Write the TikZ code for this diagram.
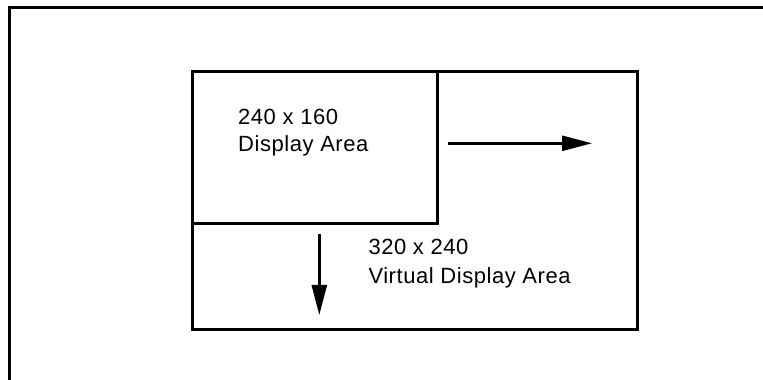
\documentclass[tikz,border=0pt]{standalone}
\usepackage{fontspec}
\setmainfont{Liberation Sans}[LetterSpace=2.5]
\usetikzlibrary{arrows.meta}
\begin{document}
\begin{tikzpicture}[x=1pt,y=1pt,
  frame/.style={line width=3pt},
  area/.style={draw,line width=3pt,inner sep=0pt,outer sep=0pt,anchor=north west},
  lbl/.style={font=\fontsize{22}{27}\selectfont,inner sep=0pt,anchor=base west},
  arr/.style={line width=2.5pt,-{Triangle[length=30pt,width=15pt]}}]
\useasboundingbox (0,0) rectangle (763,380);
\draw[frame] (9.5,0) -- (9.5,372.5) -- (763,372.5);
\node[area,minimum width=445pt,minimum height=258pt] (virt) at (192,308.5) {};
\node[area,minimum width=245.5pt,minimum height=152pt] (disp) at (192,308.5) {};
\node[lbl] (d1) at (238,255) {240 x 160};
\node[lbl] (d2) at (238,228) {Display Area};
\node[lbl] (v1) at (368.3,125) {320 x 240};
\node[lbl] (v2) at (368.3,96.7) {Virtual Display Area};
\coordinate (rs) at (448,236.7);
\coordinate (re) at (592,236.7);
\coordinate (ds) at (319.3,146);
\coordinate (de) at (319.3,65);
\draw[arr] (rs) -- (re);
\draw[arr] (ds) -- (de);
\end{tikzpicture}
\end{document}
